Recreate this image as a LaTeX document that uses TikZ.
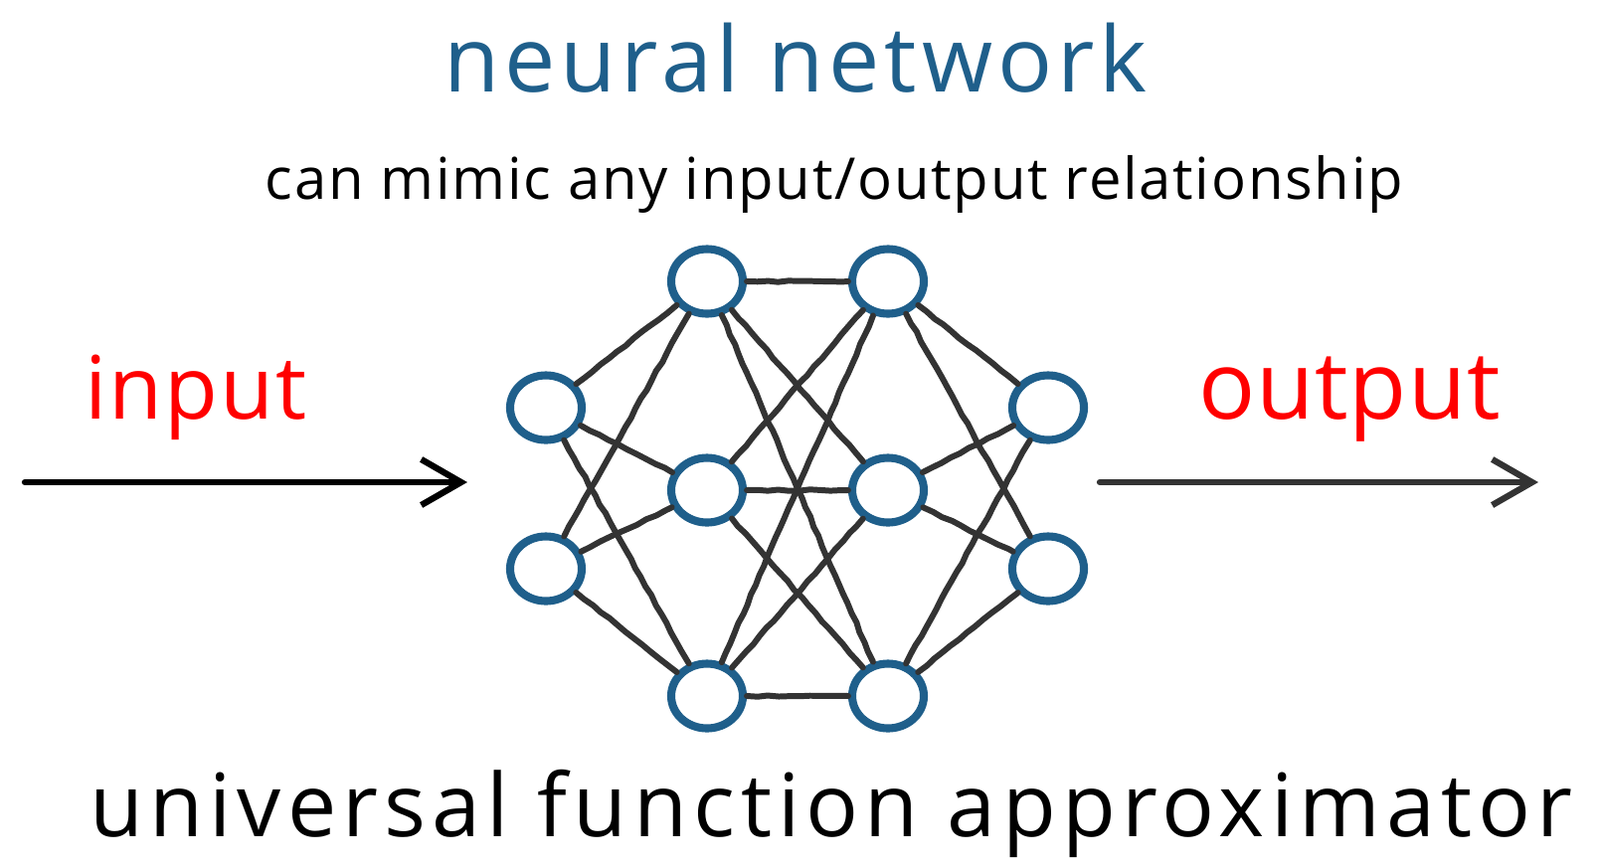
\documentclass[tikz,border=0pt]{standalone}
\usepackage{fontspec}
\setmainfont{Open Sans}
\usepackage{tikz}
\usetikzlibrary{arrows.meta,decorations.pathmorphing,shapes.geometric}
\definecolor{netblue}{HTML}{1F5F8B}
\definecolor{wiregray}{HTML}{333333}
\definecolor{labelred}{HTML}{FF0000}

\begin{document}
\begin{tikzpicture}[x=0.01cm,y=-0.01cm,
    decoration={random steps,segment length=3pt,amplitude=0.2pt},
    neuron/.style={draw=netblue,ellipse,line width=2.3pt,minimum width=7.2mm,minimum height=6.5mm,inner sep=0pt,fill=white},
    wire/.style={draw=wiregray,line width=1.7pt,line cap=round,decorate},
    flow/.style={line width=1.8pt,line cap=round,-{Straight Barb[length=4mm,width=4.6mm,line width=1.8pt]}}]
  \useasboundingbox (0,0) rectangle (1609,872);
  % texts
  \node[anchor=base,text=netblue,font=\fontsize{26}{30}\selectfont\addfontfeatures{LetterSpace=5.4}] (title) at (800,92) {neural network};
  \node[anchor=base,font=\fontsize{16.5}{20}\selectfont\addfontfeatures{LetterSpace=3}] (subtitle) at (839,200) {can mimic any input/output relationship};
  \node[anchor=base,text=labelred,font=\fontsize{25}{30}\selectfont\addfontfeatures{LetterSpace=2}] (inlabel) at (197,421) {input};
  \node[anchor=base,text=labelred,font=\fontsize{27}{30}\selectfont\addfontfeatures{LetterSpace=1}] (outlabel) at (1357,421) {output};
  \node[anchor=base,font=\fontsize{25}{30}\selectfont\addfontfeatures{LetterSpace=7}] (caption) at (836,841) {universal function approximator};
  % layers
  \node[neuron] (i1) at (549,410) {};
  \node[neuron] (i2) at (549,572) {};
  \node[neuron] (h1) at (711,283) {};
  \node[neuron] (h2) at (711,493) {};
  \node[neuron] (h3) at (711,700) {};
  \node[neuron] (k1) at (893,283) {};
  \node[neuron] (k2) at (893,493) {};
  \node[neuron] (k3) at (893,700) {};
  \node[neuron] (o1) at (1054,410) {};
  \node[neuron] (o2) at (1054,572) {};
  % connections
  \foreach \a in {i1,i2}
    \foreach \b in {h1,h2,h3}
      \draw[wire] (\a)--(\b);
  \foreach \a in {h1,h2,h3}
    \foreach \b in {k1,k2,k3}
      \draw[wire] (\a)--(\b);
  \foreach \a in {k1,k2,k3}
    \foreach \b in {o1,o2}
      \draw[wire] (\a)--(\b);
  % arrows
  \coordinate (instart) at (25,485);
  \coordinate (inend) at (470,485);
  \coordinate (outstart) at (1106,485);
  \coordinate (outend) at (1547,485);
  \draw[flow] (instart)--(inend);
  \draw[flow,draw=wiregray] (outstart)--(outend);
\end{tikzpicture}
\end{document}
